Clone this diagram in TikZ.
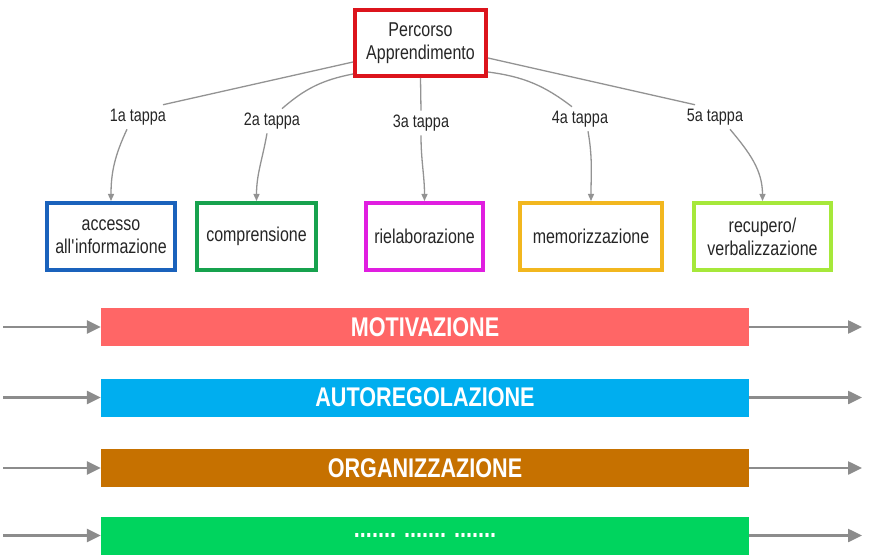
\documentclass[tikz,border=0pt]{standalone}
\usepackage{fontspec}
\setmainfont{Liberation Sans}[FakeStretch=0.8]
\usepackage{tikz}
\usetikzlibrary{shapes.geometric, arrows.meta}
\definecolor{rosso}{HTML}{DC141C}
\definecolor{blu}{HTML}{1A62BC}
\definecolor{verde}{HTML}{17A24E}
\definecolor{magenta}{HTML}{E01EE0}
\definecolor{arancio}{HTML}{F2B71F}
\definecolor{lime}{HTML}{A6E83A}
\definecolor{salmone}{HTML}{FF6666}
\definecolor{celeste}{HTML}{00AEEF}
\definecolor{marrone}{HTML}{C67100}
\definecolor{smeraldo}{HTML}{00D45E}
\tikzstyle{fase} = [rectangle, line width=4pt, fill=white, minimum height=67pt, align=center, text=black!85, font=\fontsize{20}{23}\selectfont]
\tikzstyle{tappa} = [inner sep=4pt, text=black!85, font=\fontsize{18}{20}\selectfont]
\tikzstyle{barra} = [rectangle, minimum width=648pt, minimum height=38pt, inner sep=0pt, text=white, font=\fontsize{27}{30}\selectfont\bfseries]
\tikzstyle{link} = [line width=1.3pt, draw=gray!85]
\tikzstyle{linkarrow} = [link, -{Triangle[length=7pt,width=6pt]}]
\tikzstyle{flow} = [line width=2.5pt, draw=gray!90, -{Triangle[length=14pt,width=13pt]}]

\begin{document}
\begin{tikzpicture}[x=1pt, y=-1pt]
    \useasboundingbox (0,0) rectangle (876,559);
    \node (percorso) [fase, draw=rosso, minimum width=131pt, minimum height=66pt] at (420.5,43) {Percorso\\Apprendimento};

    \node (t1) [tappa] at (138,117) {1a tappa};
    \node (t2) [tappa] at (272,121) {2a tappa};
    \node (t3) [tappa] at (421,123) {3a tappa};
    \node (t4) [tappa] at (580,119) {4a tappa};
    \node (t5) [tappa] at (715,117) {5a tappa};

    \node (accesso) [fase, draw=blu, minimum width=128pt] at (111,236.5) {accesso\\all\textquotesingle informazione};
    \node (comprensione) [fase, draw=verde, minimum width=119pt] at (256.5,236.5) {comprensione};
    \node (rielaborazione) [fase, draw=magenta, minimum width=117pt] at (424.5,236.5) {rielaborazione};
    \node (memorizzazione) [fase, draw=arancio, minimum width=142pt] at (591,236.5) {memorizzazione};
    \node (recupero) [fase, draw=lime, minimum width=137pt] at (762.5,236.5) {recupero/\\verbalizzazione};

    \draw [link] ([yshift=-19pt]percorso.west) -- ([xshift=25pt]t1.north);
    \draw [link] ([yshift=4pt]percorso.south west) to[bend right=15] ([xshift=10pt]t2.north);
    \draw [link] (percorso.south) -- (t3.north);
    \draw [link] ([yshift=-29pt]percorso.east) to[bend left=15] ([xshift=-8pt]t4.north);
    \draw [link] ([yshift=-15pt]percorso.east) -- ([xshift=-20pt]t5.north);

    \draw [linkarrow] ([xshift=-11pt]t1.south) to[out=-115,in=90] (accesso.north);
    \draw [linkarrow] ([xshift=-5pt]t2.south) to[out=-100,in=90] (comprensione.north);
    \draw [linkarrow] (t3.south) to[out=-90,in=90] (rielaborazione.north);
    \draw [linkarrow] ([xshift=8pt]t4.south) to[out=-80,in=90] (memorizzazione.north);
    \draw [linkarrow] ([xshift=15pt]t5.south) to[out=-50,in=90] (recupero.north);

    \node (motivazione) [barra, fill=salmone] at (425,327) {MOTIVAZIONE};
    \node (autoregolazione) [barra, fill=celeste] at (425,397.5) {AUTOREGOLAZIONE};
    \node (organizzazione) [barra, fill=marrone] at (425,468) {ORGANIZZAZIONE};
    \node (altro) [barra, fill=smeraldo] at (425,535.5) {....... ....... .......};

    \coordinate (in1) at (3,327);
    \coordinate (in2) at (3,397.5);
    \coordinate (in3) at (3,468);
    \coordinate (in4) at (3,535.5);
    \coordinate (out1) at (862,327);
    \coordinate (out2) at (862,397.5);
    \coordinate (out3) at (862,468);
    \coordinate (out4) at (862,535.5);

    \draw [flow] (in1) -- (motivazione);
    \draw [flow] (in2) -- (autoregolazione);
    \draw [flow] (in3) -- (organizzazione);
    \draw [flow] (in4) -- (altro);
    \draw [flow] (motivazione) -- (out1);
    \draw [flow] (autoregolazione) -- (out2);
    \draw [flow] (organizzazione) -- (out3);
    \draw [flow] (altro) -- (out4);
\end{tikzpicture}
\end{document}
